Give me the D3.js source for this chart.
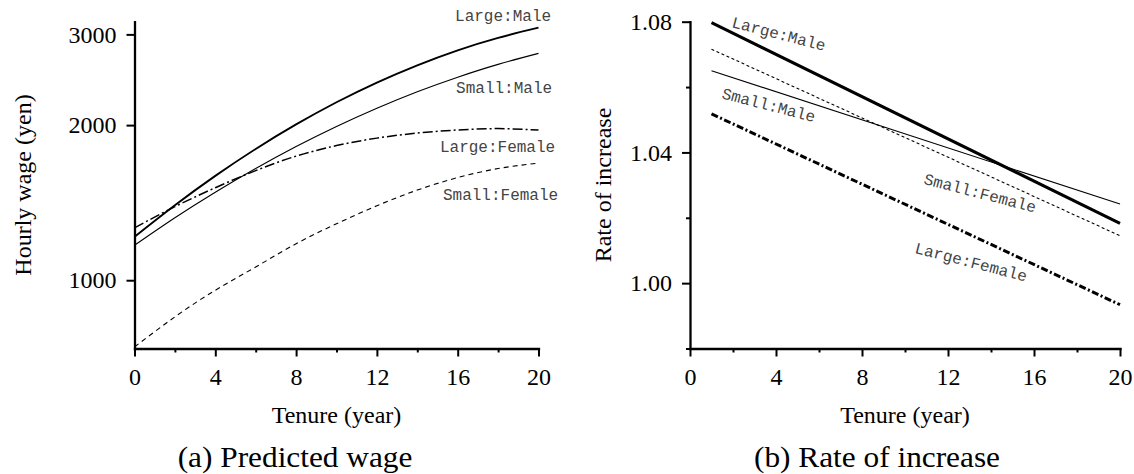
<!DOCTYPE html>
<html>
<head>
<meta charset="utf-8">
<script src="https://cdn.jsdelivr.net/npm/d3@7"></script>
<style>
  body { margin: 0; background: #fff; }
  svg text.serif { font-family: "Liberation Serif", Tinos, "DejaVu Serif", serif; }
  svg text.mono { font-family: "Liberation Mono", Cousine, "DejaVu Sans Mono", monospace; }
</style>
</head>
<body>
<div id="chart"></div>
<script>
// Predicted wage by tenure (years)
const wageTenure = [0, 2, 4, 6, 8, 10, 12, 14, 16, 18, 20];
const wageLargeMale   = [1214, 1398, 1594, 1798, 2006, 2215, 2419, 2613, 2794, 2954, 3091];
const wageSmallMale   = [1169, 1322, 1482, 1647, 1817, 1988, 2157, 2322, 2478, 2624, 2756];
const wageLargeFemale = [1264, 1389, 1512, 1632, 1741, 1825, 1887, 1930, 1957, 1969, 1956];
const wageSmallFemale = [742, 849, 956, 1061, 1177, 1287, 1395, 1496, 1582, 1647, 1688];

// Rate of increase, panel (b): straight lines from year 1 to year 20
const rateTenure = [1, 20];
const rateLargeMale   = [1.0797, 1.0183];
const rateSmallMale   = [1.0650, 1.0242];
const rateLargeFemale = [1.0518, 0.9934];
const rateSmallFemale = [1.0716, 1.0145];

const seriesNames = ["Large:Male", "Small:Male", "Large:Female", "Small:Female"];
const tenureTicks = [0, 4, 8, 12, 16, 20];
const tenureMinorTicks = [2, 6, 10, 14, 18];
const wageTicks = [1000, 2000, 3000];
const rateTicks = [1.00, 1.04, 1.08];
const rateMinorTicks = [0.98, 1.02, 1.06];

document.addEventListener("DOMContentLoaded", function () {
    const width = 1134, height = 474;

    const svg = d3.select("#chart").append("svg")
        .attr("width", width)
        .attr("height", height);

    svg.append("rect")
        .attr("width", width)
        .attr("height", height)
        .attr("fill", "#fff");

    // scales
    const xWage = d3.scaleLinear().domain([0, 20]).range([134.5, 538.5]);
    const yWage = d3.scaleLog().domain([737, 3175]).range([348.5, 21.7]);
    const xRate = d3.scaleLinear().domain([0, 20]).range([690, 1120]);
    const yRate = d3.scaleLinear().domain([0.98, 1.08]).range([348.5, 21.7]);

    function drawAxes(x, y, yTicks, yMinor, yFormat) {
        const bottom = y.range()[0];
        const left = x.range()[0];

        // minor ticks first, no labels
        svg.append("g")
            .attr("transform", `translate(0,${bottom})`)
            .call(d3.axisBottom(x).tickValues(tenureMinorTicks).tickSize(4).tickFormat(() => ""))
            .call(g => g.select(".domain").remove())
            .selectAll("line").attr("stroke-width", 2);

        if (yMinor) {
            svg.append("g")
                .attr("transform", `translate(${left},0)`)
                .call(d3.axisLeft(y).tickValues(yMinor).tickSize(4).tickFormat(() => ""))
                .call(g => g.select(".domain").remove())
                .selectAll("line").attr("stroke-width", 2);
        }

        const gx = svg.append("g")
            .attr("transform", `translate(0,${bottom})`)
            .call(d3.axisBottom(x).tickValues(tenureTicks).tickSize(8).tickSizeOuter(0).tickPadding(11));

        const gy = svg.append("g")
            .attr("transform", `translate(${left},0)`)
            .call(d3.axisLeft(y).tickValues(yTicks).tickSize(8).tickSizeOuter(0).tickPadding(10).tickFormat(yFormat));

        [gx, gy].forEach(g => {
            g.attr("font-family", null).attr("font-size", 24);
            g.select(".domain").attr("stroke-width", 2.3).attr("stroke-linecap", "square");
            g.selectAll(".tick line").attr("stroke-width", 2);
            g.selectAll("text").attr("class", "serif").attr("fill", "#000");
        });
    }

    drawAxes(xWage, yWage, wageTicks, null, d3.format("d"));
    drawAxes(xRate, yRate, rateTicks, rateMinorTicks, d3.format(".2f"));

    // line styles in seriesNames order
    const wageStyle = [
        { w: 1.9, dash: null },
        { w: 1.1, dash: null },
        { w: 1.5, dash: "10,3,2,3" },
        { w: 1.1, dash: "5,4" }
    ];
    const rateStyle = [
        { w: 3, dash: null },
        { w: 1.1, dash: null },
        { w: 3, dash: "7,2.5,2,2.5" },
        { w: 1.1, dash: "3,2.5" }
    ];

    const wageSeries = [wageLargeMale, wageSmallMale, wageLargeFemale, wageSmallFemale];
    const rateSeries = [rateLargeMale, rateSmallMale, rateLargeFemale, rateSmallFemale];

    const wageLine = d3.line()
        .x((d, i) => xWage(wageTenure[i]))
        .y(d => yWage(d))
        .curve(d3.curveNatural);

    const rateLine = d3.line()
        .x((d, i) => xRate(rateTenure[i]))
        .y(d => yRate(d));

    wageSeries.forEach((s, k) => {
        svg.append("path")
            .datum(s)
            .attr("d", wageLine)
            .attr("fill", "none")
            .attr("stroke", "#000")
            .attr("stroke-width", wageStyle[k].w)
            .attr("stroke-dasharray", wageStyle[k].dash);
    });

    rateSeries.forEach((s, k) => {
        svg.append("path")
            .datum(s)
            .attr("d", rateLine)
            .attr("fill", "none")
            .attr("stroke", "#000")
            .attr("stroke-width", rateStyle[k].w)
            .attr("stroke-dasharray", rateStyle[k].dash);
    });

    // series labels, anchored in data units
    const wageLabelAt = [[15.87, 3189], [15.92, 2311], [15.12, 1775], [15.27, 1430]];
    const rateLabelAt = [[1.91, 1.0784], [1.44, 1.0566], [10.42, 1.0093], [10.84, 1.0304]];

    seriesNames.forEach((name, k) => {
        svg.append("text")
            .attr("class", "mono")
            .attr("x", xWage(wageLabelAt[k][0]))
            .attr("y", yWage(wageLabelAt[k][1]))
            .attr("font-size", 16)
            .attr("fill", "#444")
            .text(name);

        const px = xRate(rateLabelAt[k][0]), py = yRate(rateLabelAt[k][1]);
        svg.append("text")
            .attr("class", "mono")
            .attr("transform", `translate(${px},${py}) rotate(14.5)`)
            .attr("font-size", 16)
            .attr("fill", "#444")
            .text(name);
    });

    // axis titles
    const titles = [
        { text: "Tenure (year)", x: 336.5, y: 423, rot: 0 },
        { text: "Tenure (year)", x: 905, y: 423, rot: 0 },
        { text: "Hourly wage (yen)", x: 31, y: 185, rot: -90 },
        { text: "Rate of increase", x: 611, y: 185, rot: -90 }
    ];
    titles.forEach(t => {
        svg.append("text")
            .attr("class", "serif")
            .attr("transform", `translate(${t.x},${t.y}) rotate(${t.rot})`)
            .attr("text-anchor", "middle")
            .attr("font-size", 24)
            .text(t.text);
    });

    // sub-figure captions
    const captions = [
        { text: "(a) Predicted wage", x: 295 },
        { text: "(b) Rate of increase", x: 877 }
    ];
    captions.forEach(c => {
        svg.append("text")
            .attr("class", "serif")
            .attr("transform", `translate(${c.x},466.5) scale(1.08,1)`)
            .attr("text-anchor", "middle")
            .attr("font-size", 29)
            .text(c.text);
    });
});
</script>
</body>
</html>
